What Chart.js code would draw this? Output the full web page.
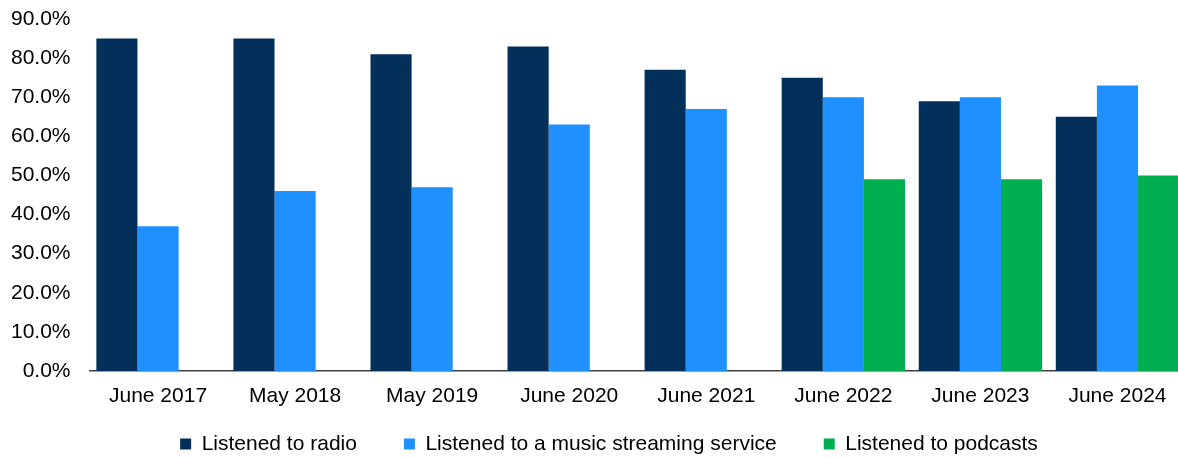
<!DOCTYPE html>
<html>
<head>
<meta charset="utf-8">
<script src="https://cdn.jsdelivr.net/npm/chart.js@4"></script>
<style>
    html, body { margin: 0; padding: 0; background: #ffffff; overflow: hidden; }
    #wrap { width: 1186px; height: 458px; }
</style>
</head>
<body>
<div id="wrap"><canvas id="graph" width="1186" height="458"></canvas></div>
<script>
const categories = ['June 2017', 'May 2018', 'May 2019', 'June 2020', 'June 2021', 'June 2022', 'June 2023', 'June 2024'];
const radio = [85, 85, 81, 83, 77, 75, 69, 65];
const streaming = [37, 46, 47, 63, 67, 70, 70, 73];
const podcasts = [null, null, null, null, null, 49, 49, 50];
const yTicks = [0, 10, 20, 30, 40, 50, 60, 70, 80, 90];

Chart.defaults.font.family = '"Liberation Sans", Arial, sans-serif';
Chart.defaults.font.size = 21;
Chart.defaults.color = '#000000';

// move the legend row a bit: it sits off-centre and close under the axis labels
// (only the top moves up, so the clip box still covers the row)
const legendShift = {
    id: 'legendShift',
    afterLayout(chart) {
        const lg = chart.legend;
        lg.left += 16;
        lg.right += 16;
        lg.top -= 24.5;
    }
};

const ctx = document.getElementById('graph');
new Chart(ctx, {
    type: 'bar',
    data: {
        labels: categories,
        datasets: [
            { label: 'Listened to radio', data: radio, backgroundColor: '#03305b' },
            { label: 'Listened to a music streaming service', data: streaming, backgroundColor: '#1e90ff' },
            { label: 'Listened to podcasts', data: podcasts, backgroundColor: '#00b050' }
        ]
    },
    plugins: [legendShift],
    options: {
        responsive: false,
        animation: false,
        layout: {
            padding: { top: 19, left: 0, right: 0, bottom: 0 }
        },
        datasets: {
            bar: { categoryPercentage: 0.9, barPercentage: 1.0, borderWidth: 0 }
        },
        plugins: {
            legend: {
                position: 'bottom',
                maxHeight: 47,
                labels: {
                    boxWidth: 11,
                    boxHeight: 11,
                    padding: 47,
                    font: { size: 21 }
                }
            },
            tooltip: { enabled: false }
        },
        scales: {
            x: {
                grid: { display: false, drawTicks: false },
                border: { display: true, color: '#404040', width: 1.5 },
                ticks: { padding: 13, maxRotation: 0, autoSkip: false },
                afterFit: function(scale) { scale.height = 40; }
            },
            y: {
                min: 0,
                max: 90,
                grid: { display: false, drawTicks: false },
                border: { display: false },
                afterBuildTicks: function(scale) {
                    scale.ticks = yTicks.map(v => ({ value: v }));
                },
                ticks: {
                    padding: 19,
                    callback: function(value) { return value.toFixed(1) + '%'; }
                },
                afterFit: function(scale) {
                    scale.width = 89.5;
                    scale.paddingTop = 0;
                    scale.paddingBottom = 0;
                }
            }
        }
    }
});
</script>
</body>
</html>
